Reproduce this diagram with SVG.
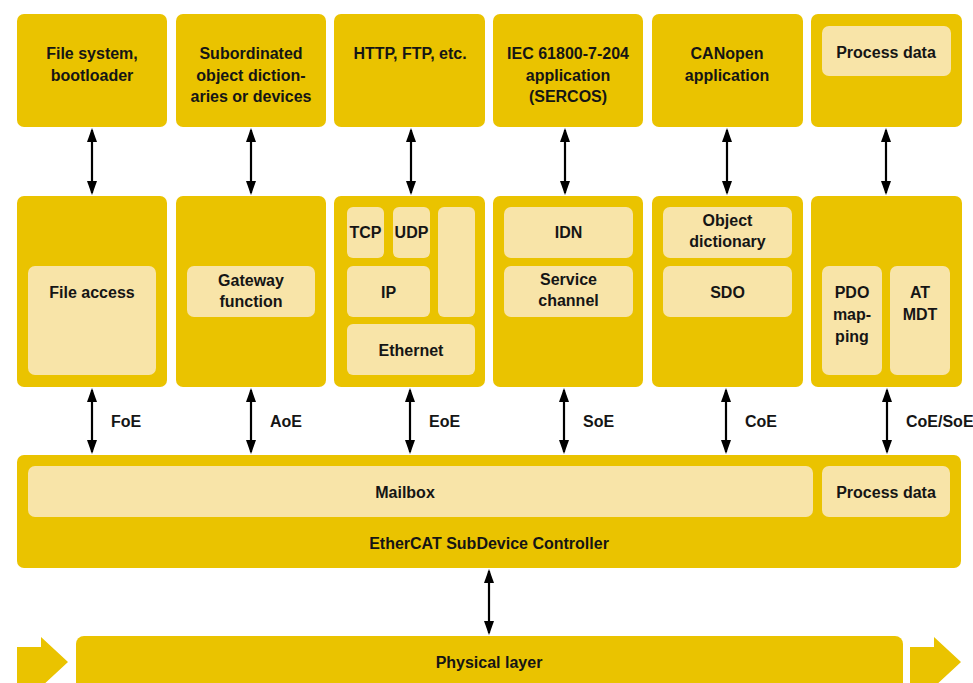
<svg xmlns="http://www.w3.org/2000/svg" width="973" height="683" viewBox="0 0 973 683">
<defs>
<style>
.d{fill:#EAC300}
.l{fill:#F8E4A8}
text{font-family:"Liberation Sans",Arial,sans-serif;font-weight:bold;font-size:16px;fill:#151515;text-anchor:middle}
text.s{text-anchor:start}
.c{stroke:#000;stroke-width:2.2;fill:none;marker-start:url(#ah);marker-end:url(#ah)}
</style>
<marker id="ah" viewBox="0 0 14 10" refX="12" refY="5" markerWidth="14" markerHeight="10" markerUnits="userSpaceOnUse" orient="auto-start-reverse">
<path d="M0,0 L14,5 L0,10 z" fill="#000"/>
</marker>
</defs>
<rect width="973" height="683" fill="#fff"/>

<!-- top row -->
<g id="top-filesystem"><rect class="d" x="17" y="14" width="150" height="113" rx="7"/>
<text x="92" y="59">File system,</text><text x="92" y="80.5">bootloader</text></g>
<g id="top-subordinated"><rect class="d" x="176" y="14" width="150" height="113" rx="7"/>
<text x="251" y="59">Subordinated</text><text x="251" y="80.5">object diction-</text><text x="251" y="102">aries or devices</text></g>
<g id="top-http"><rect class="d" x="334" y="14" width="151" height="113" rx="7"/>
<text x="410" y="59">HTTP, FTP, etc.</text></g>
<g id="top-iec"><rect class="d" x="493" y="14" width="150" height="113" rx="7"/>
<text x="568" y="59">IEC 61800-7-204</text><text x="568" y="80.5">application</text><text x="568" y="102">(SERCOS)</text></g>
<g id="top-canopen"><rect class="d" x="652" y="14" width="151" height="113" rx="7"/>
<text x="727" y="59">CANopen</text><text x="727" y="80.5">application</text></g>
<g id="top-process"><rect class="d" x="811" y="14" width="151" height="113" rx="7"/>
<rect class="l" x="822" y="26" width="129" height="50" rx="7"/>
<text x="886" y="58">Process data</text></g>

<!-- middle row -->
<g id="mid-foe"><rect class="d" x="17" y="196" width="150" height="191" rx="7"/>
<rect class="l" x="28" y="266" width="128" height="109" rx="7"/>
<text x="92" y="298">File access</text></g>
<g id="mid-aoe"><rect class="d" x="176" y="196" width="150" height="191" rx="7"/>
<rect class="l" x="187" y="266" width="128" height="51" rx="7"/>
<text x="251" y="286">Gateway</text><text x="251" y="307">function</text></g>
<g id="mid-eoe"><rect class="d" x="334" y="196" width="151" height="191" rx="7"/>
<rect class="l" x="347" y="207" width="37" height="51" rx="6"/>
<rect class="l" x="393" y="207" width="37" height="51" rx="6"/>
<rect class="l" x="438" y="207" width="37" height="110" rx="6"/>
<rect class="l" x="347" y="266" width="83" height="51" rx="6"/>
<rect class="l" x="347" y="324" width="128" height="51" rx="6"/>
<text x="365.5" y="238">TCP</text><text x="411.5" y="238">UDP</text>
<text x="388.5" y="298">IP</text><text x="411" y="356">Ethernet</text></g>
<g id="mid-soe"><rect class="d" x="493" y="196" width="150" height="191" rx="7"/>
<rect class="l" x="504" y="207" width="129" height="51" rx="7"/>
<rect class="l" x="504" y="266" width="129" height="51" rx="7"/>
<text x="568.5" y="238">IDN</text>
<text x="568.5" y="285">Service</text><text x="568.5" y="306">channel</text></g>
<g id="mid-coe"><rect class="d" x="652" y="196" width="151" height="191" rx="7"/>
<rect class="l" x="663" y="207" width="129" height="51" rx="7"/>
<rect class="l" x="663" y="266" width="129" height="51" rx="7"/>
<text x="727.5" y="226">Object</text><text x="727.5" y="247">dictionary</text>
<text x="727.5" y="298">SDO</text></g>
<g id="mid-pdo"><rect class="d" x="811" y="196" width="151" height="191" rx="7"/>
<rect class="l" x="822" y="266" width="60" height="109" rx="7"/>
<rect class="l" x="890" y="266" width="60" height="109" rx="7"/>
<text x="852" y="298">PDO</text><text x="852" y="320">map-</text><text x="852" y="342">ping</text>
<text x="920" y="298">AT</text><text x="920" y="320">MDT</text></g>

<!-- controller -->
<g id="controller"><rect class="d" x="17" y="455" width="944" height="113" rx="7"/>
<rect class="l" x="28" y="466" width="785" height="51" rx="7"/>
<rect class="l" x="822" y="466" width="128" height="51" rx="7"/>
<text x="405" y="498">Mailbox</text>
<text x="886" y="498">Process data</text>
<text x="489" y="549">EtherCAT SubDevice Controller</text></g>

<!-- physical layer -->
<g id="physical"><rect class="d" x="76" y="636" width="827" height="70" rx="8"/>
<text x="489" y="668">Physical layer</text>
<polygon class="d" points="17,647 41,647 41,637 68,662 41,687 41,690 17,690"/>
<polygon class="d" points="910,647 934,647 934,637 961,662 934,687 934,690 910,690"/></g>

<!-- connectors -->
<g id="connectors">
<line class="c" x1="92" y1="130" x2="92" y2="193"/>
<line class="c" x1="251" y1="130" x2="251" y2="193"/>
<line class="c" x1="411" y1="130" x2="411" y2="193"/>
<line class="c" x1="565" y1="130" x2="565" y2="193"/>
<line class="c" x1="727" y1="130" x2="727" y2="193"/>
<line class="c" x1="886" y1="130" x2="886" y2="193"/>
<line class="c" x1="92" y1="390" x2="92" y2="452"/>
<line class="c" x1="251" y1="390" x2="251" y2="452"/>
<line class="c" x1="410" y1="390" x2="410" y2="452"/>
<line class="c" x1="564" y1="390" x2="564" y2="452"/>
<line class="c" x1="726" y1="390" x2="726" y2="452"/>
<line class="c" x1="887" y1="390" x2="887" y2="452"/>
<line class="c" x1="489" y1="571" x2="489" y2="633"/>
<text class="s" x="111" y="427">FoE</text>
<text class="s" x="270" y="427">AoE</text>
<text class="s" x="429" y="427">EoE</text>
<text class="s" x="583" y="427">SoE</text>
<text class="s" x="745" y="427">CoE</text>
<text class="s" x="906" y="427">CoE/SoE</text>
</g>
</svg>
